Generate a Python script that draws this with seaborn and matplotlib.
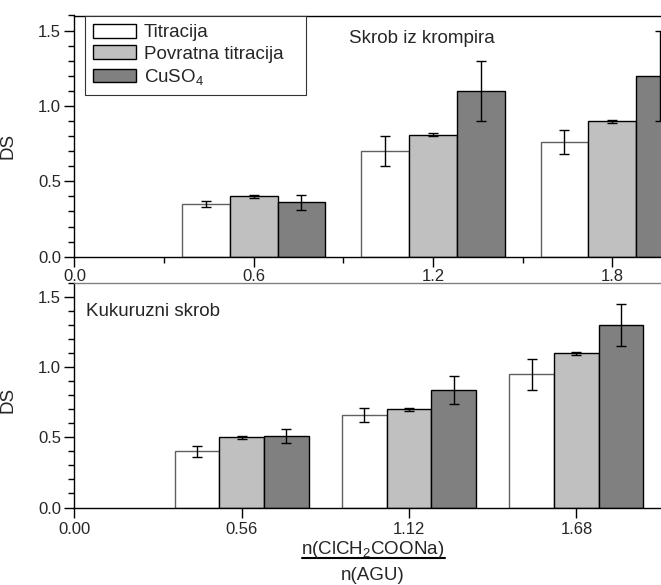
import numpy as np
import pandas as pd
import matplotlib
matplotlib.use("Agg")
import matplotlib.pyplot as plt
import seaborn as sns
from matplotlib.lines import Line2D
from matplotlib.ticker import MultipleLocator, FixedLocator

# ---------------- data ----------------
methods = ["Titracija", "Povratna titracija", "CuSO$_4$"]
colors = ["#FFFFFF", "#C0C0C0", "#808080"]

ratio_top = [0.6, 1.2, 1.8]
ds_top_titr = [0.35, 0.70, 0.76]
ds_top_povr = [0.40, 0.81, 0.90]
ds_top_cuso = [0.36, 1.10, 1.20]
err_top_titr = [0.02, 0.10, 0.08]
err_top_povr = [0.01, 0.01, 0.01]
err_top_cuso = [0.05, 0.20, 0.30]

ratio_bot = [0.56, 1.12, 1.68]
ds_bot_titr = [0.40, 0.66, 0.95]
ds_bot_povr = [0.50, 0.70, 1.10]
ds_bot_cuso = [0.51, 0.84, 1.30]
err_bot_titr = [0.04, 0.05, 0.11]
err_bot_povr = [0.01, 0.01, 0.01]
err_bot_cuso = [0.05, 0.10, 0.15]

top_ticks = [0.0, 0.6, 1.2, 1.8]
top_ticklabels = ["0.0", "0.6", "1.2", "1.8"]
bot_ticks = [0.0, 0.56, 1.12, 1.68]
bot_ticklabels = ["0.00", "0.56", "1.12", "1.68"]
y_ticks = [0.0, 0.5, 1.0, 1.5]
y_ticklabels = ["0.0", "0.5", "1.0", "1.5"]

title_top = "Skrob iz krompira"
title_bot = "Kukuruzni skrob"


def make_df(ratio, vals, errs):
    rows = []
    for m, v, e in zip(methods, vals, errs):
        for r, vv, ee in zip(ratio, v, e):
            rows.append({"ratio": r, "method": m, "DS": vv, "err": ee})
    return pd.DataFrame(rows)


df_top = make_df(ratio_top, [ds_top_titr, ds_top_povr, ds_top_cuso],
                 [err_top_titr, err_top_povr, err_top_cuso])
df_bot = make_df(ratio_bot, [ds_bot_titr, ds_bot_povr, ds_bot_cuso],
                 [err_bot_titr, err_bot_povr, err_bot_cuso])

# ---------------- style ----------------
sns.set_style("ticks")
plt.rcParams["font.family"] = ["Liberation Sans", "DejaVu Sans"]
plt.rcParams["mathtext.default"] = "regular"
plt.rcParams["axes.linewidth"] = 1.0

W, H = 661, 585
fig = plt.figure(figsize=(W / 100, H / 100), dpi=100)

x0 = 74.4
x1 = 672.0
ax_top = fig.add_axes([x0 / W, 1 - 256.7 / H, (x1 - x0) / W, (256.7 - 15.5) / H])
ax_bot = fig.add_axes([x0 / W, 1 - 507.5 / H, (x1 - x0) / W, (507.5 - 283.0) / H])

TICK_FS = 12
TEXT_FS = 13.5


def draw(ax, df, ratio):
    sns.barplot(data=df, x="ratio", y="DS", hue="method", hue_order=methods,
                palette=colors, native_scale=True, errorbar=None, width=0.8,
                edgecolor="black", linewidth=1.0, legend=False, ax=ax)
    for i, (m, cont) in enumerate(zip(methods, ax.containers)):
        sub = df[df["method"] == m].sort_values("ratio")
        patches = sorted(cont.patches, key=lambda p: p.get_x())
        xs = [p.get_x() + p.get_width() / 2 for p in patches]
        hs = [p.get_height() for p in patches]
        ax.errorbar(xs, hs, yerr=sub["err"].values, fmt="none", ecolor="black",
                    elinewidth=1.0, capsize=3.5, capthick=1.0, zorder=5)
        if i == 0:
            for p in patches:
                p.set_edgecolor("#606060")
    ax.set_xlim(0, 2.0)
    ax.set_ylim(0, 1.6)
    ax.set_yticks(y_ticks)
    ax.set_yticklabels(y_ticklabels)
    ax.yaxis.set_minor_locator(MultipleLocator(0.1))
    ax.tick_params(axis="both", which="major", direction="out", length=7,
                   width=1.0, labelsize=TICK_FS, color="black")
    ax.tick_params(axis="both", which="minor", direction="out", length=4,
                   width=1.0, color="black")
    ax.tick_params(axis="y", which="major", pad=2.5)
    ax.set_xlabel("")
    ax.set_ylabel("DS", fontsize=13.5)
    for s in ax.spines.values():
        s.set_color("black")
        s.set_linewidth(1.0)
    ax.spines["right"].set_visible(False)


draw(ax_top, df_top, ratio_top)
ax_top.set_xticks(top_ticks)
ax_top.set_xticklabels(top_ticklabels)
ax_top.xaxis.set_minor_locator(FixedLocator([0.3, 0.9, 1.5]))
ax_top.tick_params(axis="x", which="major", pad=2.0)
ax_top.yaxis.set_label_coords(-0.097, 0.46)
ax_top.text(0.46, 0.905, title_top, transform=ax_top.transAxes, fontsize=TEXT_FS,
            ha="left", va="center")
leg = ax_top.legend(ax_top.containers, methods, loc="upper left",
                    bbox_to_anchor=(0.0177, 1.0, 0.37, 0.0), mode="expand",
                    borderaxespad=0, fontsize=TEXT_FS,
                    handlelength=2.25, handleheight=0.75, handletextpad=0.45,
                    labelspacing=0.22, borderpad=0.45, frameon=True, fancybox=False,
                    framealpha=1)
leg.get_frame().set_edgecolor("#333333")
leg.get_frame().set_linewidth(0.8)
for hnd in leg.legend_handles:
    hnd.set_edgecolor("black")

draw(ax_bot, df_bot, ratio_bot)
ax_bot.set_xticks(bot_ticks)
ax_bot.set_xticklabels(bot_ticklabels)
ax_bot.xaxis.set_minor_locator(FixedLocator([]))
ax_bot.tick_params(axis="x", which="major", pad=3.5)
ax_bot.yaxis.set_label_coords(-0.097, 0.48)
ax_bot.spines["top"].set_color("#808080")
ax_bot.text(0.02, 0.875, title_bot, transform=ax_bot.transAxes, fontsize=TEXT_FS,
            ha="left", va="center")

# fraction-style x label
fig.text(373 / W, 1 - 549 / H, "n(ClCH$_2$COONa)", fontsize=TEXT_FS,
         ha="center", va="center")
fig.add_artist(Line2D([301.5 / W, 445 / W], [1 - 557.5 / H, 1 - 557.5 / H],
                      color="black", linewidth=1.5, transform=fig.transFigure))
fig.text(373 / W, 1 - 575 / H, "n(AGU)", fontsize=TEXT_FS, ha="center", va="center")

fig.savefig("out.png", dpi=100)
